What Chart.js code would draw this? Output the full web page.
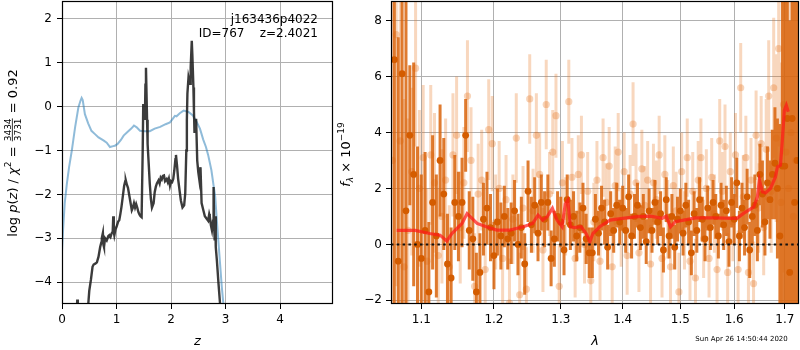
<!DOCTYPE html>
<html><head><meta charset="utf-8">
<script src="https://cdn.jsdelivr.net/npm/chart.js@4.4.1/dist/chart.umd.min.js"></script>
<style>
html,body{margin:0;padding:0;background:#fff;}
#wrap{position:relative;width:800px;height:350px;overflow:hidden;background:#fff;}
canvas{position:absolute;top:0;}
</style></head><body>
<div id="wrap">
<canvas id="left" width="336" height="350" style="left:0px"></canvas>
<canvas id="right" width="464" height="350" style="left:336px"></canvas>
</div>
<script>
// ---------------- data: left panel (redshift probability) ----------------
const zTicks = [0, 1, 2, 3, 4];
const logpTicks = [-4, -3, -2, -1, 0, 1, 2];
const zBlue = [0,0.02,0.05,0.09,0.13,0.18,0.24,0.30,0.34,0.36,
  0.38,0.42,0.48,0.54,0.60,0.67,0.76,0.82,0.88,0.94,
  0.97,1.02,1.08,1.13,1.20,1.27,1.32,1.37,1.43,1.52,
  1.61,1.70,1.80,1.90,1.98,2.04,2.07,2.10,2.16,2.23,
  2.32,2.40,2.47,2.53,2.59,2.64,2.68,2.74,2.78,2.81,
  2.84,2.87,2.90,2.93,2.96,2.99];
const logpBlue = [-3.3,-2.8,-2.2,-1.75,-1.38,-1.0,-0.47,-0.02,0.14,0.2,
  0.15,-0.17,-0.38,-0.55,-0.62,-0.7,-0.77,-0.82,-0.92,-0.9,
  -0.89,-0.85,-0.76,-0.66,-0.58,-0.5,-0.43,-0.47,-0.55,-0.56,
  -0.56,-0.5,-0.46,-0.4,-0.36,-0.26,-0.21,-0.22,-0.15,-0.09,
  -0.12,-0.2,-0.35,-0.5,-0.75,-0.92,-1.1,-1.45,-1.8,-2.05,
  -2.6,-3.1,-3.6,-4.1,-4.5,-5.0];
const zBlack = [0.27,0.28,0.29,0.38,0.47,0.50,0.53,0.56,0.58,0.61,
  0.64,0.67,0.70,0.72,0.73,0.75,0.76,0.77,0.79,0.82,
  0.85,0.87,0.89,0.91,0.93,0.94,0.95,0.96,0.98,1.00,
  1.03,1.05,1.07,1.09,1.12,1.14,1.16,1.17,1.19,1.21,
  1.25,1.28,1.30,1.32,1.34,1.36,1.38,1.40,1.42,1.44,
  1.46,1.48,1.49,1.50,1.51,1.52,1.53,1.54,1.55,1.56,
  1.57,1.59,1.61,1.63,1.65,1.68,1.70,1.72,1.74,1.77,
  1.79,1.81,1.83,1.85,1.87,1.89,1.92,1.94,1.96,1.98,
  2.00,2.02,2.04,2.06,2.08,2.09,2.11,2.13,2.16,2.18,
  2.21,2.24,2.26,2.28,2.29,2.30,2.32,2.34,2.35,2.36,
  2.38,2.39,2.41,2.42,2.43,2.45,2.46,2.48,2.50,2.52,
  2.54,2.56,2.59,2.62,2.65,2.68,2.70,2.71,2.73,2.75,
  2.77,2.78,2.79,2.80,2.81,2.82,2.84,2.87,2.90,2.92];
const logpBlack = [-4.7,-4.4,-4.7,null,-4.7,-4.2,-3.95,-3.65,-3.6,-3.58,
  -3.55,-3.42,-3.2,-3.1,-3.0,-2.88,-3.15,-3.2,-3.0,-3.05,
  -2.95,-2.93,-2.97,-2.89,-2.85,-2.5,-2.85,-2.93,-2.8,-2.74,
  -2.62,-2.59,-2.45,-2.29,-2.0,-1.8,-1.7,-1.68,-1.78,-1.85,
  -2.14,-2.36,-2.3,-2.2,-2.3,-2.22,-2.3,-2.4,-2.46,-2.5,
  -2.52,-1.0,0.06,-0.2,-0.05,-0.3,0.5,0.89,0.3,-0.3,
  -0.85,-1.3,-1.76,-2.1,-2.3,-2.2,-1.95,-1.83,-1.75,-1.68,
  -1.75,-1.62,-1.66,-1.58,-1.57,-1.7,-1.65,-1.72,-1.64,-1.8,
  -1.7,-1.72,-1.65,-1.45,-1.2,-1.1,-1.35,-1.65,-1.95,-2.14,
  -2.3,-2.25,-1.98,-1.0,-0.3,0.3,0.67,0.55,0.52,0.9,
  1.5,1.2,0.44,-0.1,-0.6,-0.3,-0.3,-1.23,-1.5,-1.68,
  -1.38,-2.2,-2.35,-2.5,-2.55,-2.6,-2.45,-2.5,-2.7,-2.82,
  -2.6,-1.83,-2.7,-3.05,-2.5,-3.2,-3.5,-4.03,-4.52,-5.0];
const objName = 'j163436p4022';
const objInfo = 'ID=767    z=2.4021';
const dateText = 'Sun Apr 26 14:50:44 2020';

// ---------------- data: right panel (spectrum) ----------------
const waveTicks = [1.1, 1.2, 1.3, 1.4, 1.5, 1.6, 1.7];
const fluxTicks = [-2, 0, 2, 4, 6, 8];
const waveDark = [1.065,1.070,1.075,1.080,1.085,1.090,1.095,1.100,1.105,1.110,
  1.115,1.120,1.125,1.130,1.135,1.140,1.145,1.150,1.155,1.160,
  1.165,1.170,1.175,1.180,1.185,1.190,1.195,1.200,1.205,1.210,
  1.215,1.220,1.225,1.230,1.235,1.240,1.245,1.250,1.255,1.260,
  1.265,1.270,1.275,1.280,1.285,1.290,1.295,1.300,1.305,1.310,
  1.315,1.320,1.325,1.330,1.335,1.340,1.345,1.350,1.355,1.360,
  1.365,1.370,1.375,1.380,1.385,1.390,1.395,1.400,1.405,1.410,
  1.415,1.420,1.425,1.430,1.435,1.440,1.445,1.450,1.455,1.460,
  1.465,1.470,1.475,1.480,1.485,1.490,1.495,1.500,1.505,1.510,
  1.515,1.520,1.525,1.530,1.535,1.540,1.545,1.550,1.555,1.560,
  1.565,1.570,1.575,1.580,1.585,1.590,1.595,1.600,1.605,1.610,
  1.615,1.620,1.625,1.630,1.635,1.640,1.645,1.650,1.655,1.660,
  1.665,1.670,1.675,1.680,1.685,1.690,1.695,1.700,1.705,1.710,
  1.715,1.720,1.725];
const fluxDark = [6.6,-0.6,6.1,1.2,3.9,2.5,0.0,-0.5,0.5,-1.7,
  1.5,0.3,3.0,1.8,-0.7,-1.2,1.5,1.0,1.5,3.9,
  0.5,0.2,-1.7,-1.0,0.9,1.3,0.6,-0.4,0.8,0.3,
  1.0,0.2,0.4,1.2,0.0,0.6,-0.7,1.9,0.7,1.4,
  0.4,1.5,0.9,1.5,-0.5,0.2,1.0,0.8,-0.2,1.6,
  0.7,1.0,0.3,0.6,1.3,0.2,-0.3,-0.3,0.9,0.4,
  1.3,0.8,-0.1,1.1,0.5,1.4,0.8,1.3,0.5,1.7,
  0.3,1.0,1.4,0.6,1.0,0.1,1.2,0.5,1.5,0.8,
  1.1,-0.2,1.6,0.3,1.0,-0.1,0.9,1.2,0.4,1.4,
  0.8,-0.3,1.1,0.5,1.6,0.9,0.2,1.3,0.6,1.5,
  1.0,0.3,1.4,0.7,1.2,0.1,1.5,0.9,2.2,0.3,
  1.3,0.6,1.7,-0.2,1.0,1.4,0.5,2.5,1.8,0.8,
  2.2,1.6,2.5,2.9,2.0,0.3,2.8,2.8,4.5,-1.0,
  4.5,1.5,3.0];
const errDark = [9,8,9,8,2.5,4,3.5,3.0,2.8,2.5,
  2.4,2.2,2.0,2.0,1.8,1.8,1.7,1.6,1.6,1.3,
  1.4,1.5,1.4,1.4,1.3,1.3,1.2,1.2,1.2,1.2,
  1.1,1.1,1.1,1.1,1.1,1.1,1.1,1.1,1.0,1.0,
  1.0,1.0,1.0,1.0,1.0,1.0,0.9,0.9,0.9,0.9,
  0.9,0.9,0.9,0.9,0.9,0.9,0.9,0.9,0.9,0.8,
  0.8,0.8,0.8,0.8,0.8,0.8,0.8,0.8,0.8,0.8,
  0.8,0.8,0.8,0.8,0.8,0.8,0.8,0.8,0.8,0.8,
  0.8,0.8,0.8,0.8,0.8,0.8,0.8,0.8,0.8,0.8,
  0.8,0.8,0.8,0.8,0.8,0.8,0.8,0.8,0.8,0.8,
  0.8,0.8,0.8,0.9,0.9,0.9,0.9,0.9,0.9,0.9,
  0.9,1.0,1.0,1.0,1.0,1.1,1.1,1.1,1.2,1.2,
  1.3,1.4,1.6,2.0,2.5,4,9,9,9,9,
  10,10,10];
const waveLight = [1.0625,1.0675,1.0725,1.0775,1.0825,1.0875,1.0925,1.0975,1.1025,1.1075,
  1.1125,1.1175,1.1225,1.1275,1.1325,1.1375,1.1425,1.1475,1.1525,1.1575,
  1.1625,1.1675,1.1725,1.1775,1.1825,1.1875,1.1925,1.1975,1.2025,1.2075,
  1.2125,1.2175,1.2225,1.2275,1.2325,1.2375,1.2425,1.2475,1.2525,1.2575,
  1.2625,1.2675,1.2725,1.2775,1.2825,1.2875,1.2925,1.2975,1.3025,1.3075,
  1.3125,1.3175,1.3225,1.3275,1.3325,1.3375,1.3425,1.3475,1.3525,1.3575,
  1.3625,1.3675,1.3725,1.3775,1.3825,1.3875,1.3925,1.3975,1.4025,1.4075,
  1.4125,1.4175,1.4225,1.4275,1.4325,1.4375,1.4425,1.4475,1.4525,1.4575,
  1.4625,1.4675,1.4725,1.4775,1.4825,1.4875,1.4925,1.4975,1.5025,1.5075,
  1.5125,1.5175,1.5225,1.5275,1.5325,1.5375,1.5425,1.5475,1.5525,1.5575,
  1.5625,1.5675,1.5725,1.5775,1.5825,1.5875,1.5925,1.5975,1.6025,1.6075,
  1.6125,1.6175,1.6225,1.6275,1.6325,1.6375,1.6425,1.6475,1.6525,1.6575,
  1.6625,1.6675,1.6725,1.6775,1.6825,1.6875,1.6925,1.6975,1.7025,1.7075,
  1.7125,1.7175,1.7225];
const fluxLight = [3.0,7.5,3.7,-0.8,0.5,2.6,6.3,2.0,3.1,-0.6,
  3.2,2.2,-0.4,1.0,2.3,-0.8,3.2,3.9,0.6,2.2,
  5.3,3.0,-1.5,1.8,2.3,-0.9,4.1,3.6,0.8,2.0,
  -0.5,1.6,-2.1,0.9,3.8,-1.8,1.3,-1.6,5.2,1.2,
  3.9,2.5,-0.2,5.0,1.8,3.3,4.6,-1.5,2.2,1.0,
  5.1,2.4,-0.5,2.5,3.2,0.0,1.9,-1.3,0.8,2.3,
  -0.6,3.1,1.5,2.8,-0.8,2.1,3.3,0.6,2.6,-0.4,
  1.8,4.3,2.2,-0.3,2.7,1.4,2.3,-0.7,2.2,1.6,
  3.2,-0.5,2.5,0.9,-0.8,2.1,1.2,-1.7,2.6,0.5,
  3.1,-0.6,1.9,-1.2,2.3,3.1,0.2,2.0,-0.5,2.4,
  1.1,-0.9,3.7,1.9,3.5,-1.0,2.6,0.8,3.2,-0.9,
  5.6,1.7,3.1,-1.0,2.3,-1.4,3.9,1.3,3.6,0.6,
  3.4,5.3,1.9,5.6,3.8,7.0,1.5,5.0,3.3,2.0,
  4.0,1.0,3.0];
const errLight = [8,9,8,6,4,3,2.8,2.8,2.6,2.6,
  2.5,2.5,2.4,2.4,2.2,2.2,2.2,2.1,2.0,2.0,
  2.0,1.9,1.9,1.8,1.8,1.8,1.8,1.7,1.7,1.7,
  1.6,1.6,1.6,1.6,1.6,1.5,1.5,1.5,1.6,1.5,
  1.5,1.5,1.5,1.6,1.5,1.5,1.5,1.5,1.5,1.4,
  1.5,1.4,1.4,1.4,1.4,1.4,1.4,1.4,1.4,1.4,
  1.4,1.4,1.4,1.4,1.4,1.4,1.4,1.4,1.4,1.4,
  1.4,1.5,1.4,1.4,1.4,1.4,1.4,1.4,1.4,1.4,
  1.4,1.4,1.4,1.4,1.4,1.4,1.4,1.4,1.4,1.4,
  1.4,1.4,1.4,1.4,1.4,1.4,1.4,1.4,1.4,1.4,
  1.4,1.4,1.5,1.4,1.5,1.4,1.4,1.4,1.5,1.4,
  1.6,1.5,1.5,1.5,1.5,1.5,1.6,1.6,1.7,1.7,
  1.8,2.0,2.2,2.5,3.0,3.5,5,6,8,9,
  9,10,10];
const waveModel = [1.068,1.092,1.111,1.125,1.134,1.141,1.155,1.162,1.166,1.176,
  1.189,1.204,1.223,1.243,1.257,1.265,1.272,1.279,1.287,1.294,
  1.302,1.307,1.311,1.315,1.321,1.332,1.340,1.346,1.351,1.362,
  1.379,1.400,1.425,1.447,1.468,1.475,1.4825,1.491,1.506,1.528,
  1.560,1.605,1.618,1.638,1.645,1.649,1.655,1.661,1.671,1.681,
  1.685,1.691,1.694,1.699,1.703,1.707];
const fluxModel = [0.5,0.5,0.39,0.33,0.12,0.39,0.75,1.1,1.0,0.75,
  0.63,0.51,0.51,0.63,0.75,1.05,0.87,0.99,1.29,0.87,
  0.63,1.45,1.58,0.63,0.6,0.63,0.39,0.10,0.39,0.63,
  0.87,0.93,0.99,1.01,0.93,1.01,0.63,0.81,0.87,0.95,
  0.95,0.93,1.11,1.34,1.7,2.3,1.88,1.84,2.0,2.41,
  2.77,2.83,3.49,4.8,4.97,4.74];
const waveRange = [1.0608, 1.7291];
const zeroLevel = [0, 0];

// ---------------- helpers ----------------
const FONT = 'DejaVu Sans';
Chart.defaults.font.family = FONT;
Chart.defaults.font.size = 12;
Chart.defaults.color = '#000';
Chart.defaults.animation = false;

const minus = v => (v < 0 ? '\u2212' + Math.abs(v) : String(v));
const fixTicks = list => s => { s.ticks = list.map(v => ({ value: v })); };
const fitBox = (prop, size) => s => {
  s[prop] = size;
  s.paddingTop = 0; s.paddingBottom = 0; s.paddingLeft = 0; s.paddingRight = 0;
};
const pts = (xs, ys) => xs.map((x, i) => ({ x: x, y: ys[i] }));
function errSegments(xs, ys, es) {
  const out = [];
  xs.forEach((x, i) => {
    out.push({ x: x, y: ys[i] - es[i] }, { x: x, y: ys[i] + es[i] }, { x: x, y: null });
  });
  return out;
}
function drawParts(ctx, cx, cy, parts) {
  ctx.save();
  ctx.translate(cx, cy);
  ctx.rotate(-Math.PI / 2);
  ctx.fillStyle = '#000';
  ctx.textBaseline = 'alphabetic';
  ctx.textAlign = 'left';
  let total = 0;
  parts.forEach(p => {
    ctx.font = p.font;
    p.w = p.frac ? Math.max(ctx.measureText(p.num).width, ctx.measureText(p.den).width) + 2
                 : ctx.measureText(p.t).width;
    total += p.w;
  });
  let x = -total / 2;
  const base = 4.5;
  parts.forEach(p => {
    ctx.font = p.font;
    if (p.frac) {
      ctx.textAlign = 'center';
      ctx.fillText(p.num, x + p.w / 2, base - 5.5);
      ctx.fillText(p.den, x + p.w / 2, base + 4.5);
      ctx.fillRect(x + 1, base - 4.6, p.w - 2, 0.8);
      ctx.textAlign = 'left';
    } else {
      ctx.fillText(p.t, x, base + (p.dy || 0));
    }
    x += p.w;
  });
  ctx.restore();
}
const framePlugin = {
  id: 'frame',
  afterDatasetsDraw(chart) {
    const { ctx, chartArea: a } = chart;
    ctx.save();
    ctx.strokeStyle = '#000';
    ctx.lineWidth = 1.2;
    ctx.strokeRect(a.left + 0.5, a.top + 0.5, a.right - a.left - 1, a.bottom - a.top - 1);
    ctx.restore();
  }
};
const gridOpts = { color: '#b0b0b0', lineWidth: 1, drawTicks: true, tickLength: 5, tickColor: '#000', tickWidth: 1 };

// ---------------- left chart ----------------
const leftText = {
  id: 'leftText',
  afterDraw(chart) {
    const ctx = chart.ctx;
    ctx.save();
    ctx.fillStyle = '#000';
    ctx.font = '12px ' + FONT;
    ctx.textAlign = 'right';
    ctx.textBaseline = 'middle';
    ctx.fillText(objName, 318, 20);
    ctx.fillText(objInfo, 318, 34);
    ctx.restore();
    const N = '13px ' + FONT, I = 'italic 13px ' + FONT, S = '9px ' + FONT;
    drawParts(ctx, 12, 153, [
      { t: 'log ', font: N }, { t: 'p', font: I }, { t: '(', font: N }, { t: 'z', font: I }, { t: ')', font: N },
      { t: ' / ', font: N }, { t: '\u03c7', font: I }, { t: '2', font: S, dy: -6 },
      { t: ' = ', font: N }, { frac: true, num: '3434', den: '3731', font: S },
      { t: ' = 0.92', font: N }
    ]);
  }
};
new Chart(document.getElementById('left'), {
  type: 'line',
  data: { datasets: [
    { data: pts(zBlack, logpBlack), borderColor: 'rgba(25,25,25,0.85)', borderWidth: 2.4, pointRadius: 0, tension: 0, spanGaps: false, clip: 0 },
    { data: pts(zBlue, logpBlue), borderColor: 'rgba(31,119,180,0.5)', borderWidth: 2, pointRadius: 0, tension: 0, clip: 0 }
  ]},
  options: {
    responsive: false, devicePixelRatio: 1, animation: false,
    layout: { autoPadding: false, padding: { left: 0, top: 1, right: 3, bottom: 0 } },
    plugins: { legend: { display: false }, tooltip: { enabled: false } },
    scales: {
      x: { type: 'linear', min: 0, max: 4.97, afterBuildTicks: fixTicks(zTicks),
           afterFit: fitBox('height', 46),
           grid: gridOpts, border: { display: false },
           ticks: { padding: 4, maxRotation: 0, callback: v => minus(v), font: { size: 12 } },
           title: { display: true, text: 'z', font: { size: 13, style: 'italic' }, padding: { top: 0, bottom: 1 } } },
      y: { type: 'linear', min: -4.5, max: 2.41, afterBuildTicks: fixTicks(logpTicks),
           afterFit: fitBox('width', 62),
           grid: gridOpts, border: { display: false },
           ticks: { padding: 5, callback: v => minus(v), font: { size: 12 } } }
    }
  },
  plugins: [framePlugin, leftText]
});

// ---------------- right chart ----------------
const rightText = {
  id: 'rightText',
  afterDraw(chart) {
    const ctx = chart.ctx;
    const N = '13px ' + FONT, I = 'italic 13px ' + FONT, S = '9px ' + FONT, SI = 'italic 9px ' + FONT;
    drawParts(ctx, 9.5, 154.5, [
      { t: 'f', font: I }, { t: '\u03bb', font: SI, dy: 3 }, { t: ' \u00d7 10', font: N }, { t: '\u221219', font: S, dy: -6 }
    ]);
    ctx.save();
    ctx.fillStyle = '#000';
    ctx.font = '7px ' + FONT;
    ctx.textAlign = 'center';
    ctx.textBaseline = 'middle';
    ctx.fillText(dateText, 405.5, 339);
    ctx.restore();
  }
};
new Chart(document.getElementById('right'), {
  type: 'line',
  data: { datasets: [
    { order: 1, data: [{ x: waveRange[0], y: zeroLevel[0] }, { x: waveRange[1], y: zeroLevel[1] }], borderColor: '#111', borderWidth: 2, borderDash: [2.5, 3.3], pointRadius: 0, clip: 0 },
    { order: 2, data: pts(waveModel, fluxModel), borderColor: 'rgba(255,25,25,0.72)', borderWidth: 3.2, pointRadius: 0, tension: 0, clip: 0 },
    { order: 3, data: pts(waveDark, fluxDark), showLine: false, pointRadius: 3.4, pointBorderWidth: 0, pointBackgroundColor: 'rgba(212,92,0,1)', clip: 0 },
    { order: 4, data: errSegments(waveDark, fluxDark, errDark), borderColor: 'rgba(217,100,12,0.85)', borderWidth: 3, pointRadius: 0, spanGaps: false, clip: 0 },
    { order: 5, data: pts(waveLight, fluxLight), showLine: false, pointRadius: 3.6, pointBorderWidth: 0, pointBackgroundColor: 'rgba(230,110,20,0.3)', clip: 0 },
    { order: 6, data: errSegments(waveLight, fluxLight, errLight), borderColor: 'rgba(230,110,20,0.28)', borderWidth: 3, pointRadius: 0, spanGaps: false, clip: 0 }
  ]},
  options: {
    responsive: false, devicePixelRatio: 1, animation: false,
    layout: { autoPadding: false, padding: { left: 0, top: 1, right: 1, bottom: 0 } },
    plugins: { legend: { display: false }, tooltip: { enabled: false } },
    scales: {
      x: { type: 'logarithmic', min: waveRange[0], max: waveRange[1], afterBuildTicks: fixTicks(waveTicks),
           afterFit: fitBox('height', 46),
           grid: gridOpts, border: { display: false },
           ticks: { padding: 4, maxRotation: 0, autoSkip: false, callback: v => Number(v).toFixed(1), font: { size: 12 } },
           title: { display: true, text: '\u03bb', font: { size: 13, style: 'italic' }, padding: { top: 0, bottom: 1 } } },
      y: { type: 'linear', min: -2.13, max: 8.7, afterBuildTicks: fixTicks(fluxTicks),
           afterFit: fitBox('width', 55),
           grid: gridOpts, border: { display: false },
           ticks: { padding: 4, callback: v => minus(v), font: { size: 12 } } }
    }
  },
  plugins: [framePlugin, rightText]
});
</script>
</body></html>
